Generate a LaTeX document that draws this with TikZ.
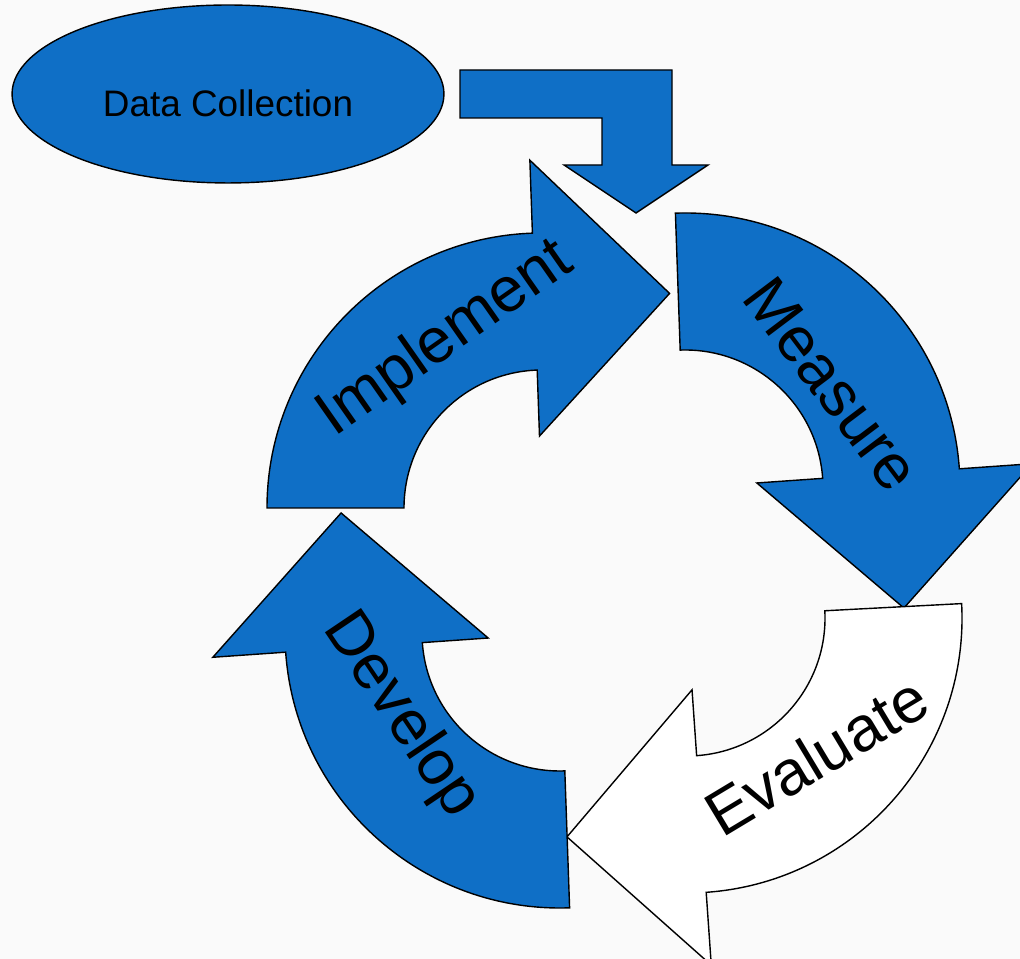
\documentclass[tikz,border=0pt]{standalone}
\usepackage{fontspec}
\setmainfont{Liberation Sans}
\usetikzlibrary{positioning, shapes.geometric}
\definecolor{myblue}{HTML}{0F6FC6}
\colorlet{mypaper}{black!2}
\tikzset{ % shape and text styles
  my shape/.style={draw=black,line width=0.8pt,line join=miter},
  big text/.style={font=\fontsize{36}{42}\selectfont,anchor=base,inner sep=0},
  data node/.style={my shape,ellipse,fill=myblue,inner sep=0,
    minimum width=8.64cm,minimum height=3.56cm,
    font=\fontsize{21}{25}\selectfont,text height=0.9cm,text depth=0pt}
}

\begin{document}
\begin{tikzpicture}[x=0.02cm,y=0.02cm]
\useasboundingbox (0,0) rectangle (1020,959);
\clip (0,0) rectangle (1020,959);
\fill[mypaper] (0,0) rectangle (1020,959);

\node[data node] (data) at (228,865) {Data Collection};

% bent arrow into the cycle
\draw[my shape,fill=myblue] (460,889) -- (672,889) -- (672,794) -- (708,794)
  -- (636,746) -- (564,794) -- (602,794) -- (602,841) -- (460,841) -- cycle;

% centres of the curved arrows
\coordinate (c1) at (542,451);
\coordinate (c2) at (685,471);
\coordinate (c3) at (687,341);
\coordinate (c4) at (560,326);

% curved arrows
\foreach\ctr/\sa/\ea/\col in {c1/180/92/myblue,c2/92/4/myblue,c3/3/-86/white,c4/272/184/myblue}
  \draw[my shape,fill=\col,shift={(\ctr)}]
    (\sa:275) arc[start angle=\sa,end angle=\ea,radius=275]
    -- (\ea:348) -- ([shift={(\ea-90:135)}]\ea:210) -- (\ea:72) -- (\ea:138)
    arc[start angle=\ea,end angle=\sa,radius=138] -- cycle;

% labels
\node[big text,rotate=35]  (impl) at (455,606) {Implement};
\node[big text,rotate=-53] (meas) at (815,562) {Measure};
\node[big text,rotate=31]  (eval) at (828,184) {Evaluate};
\node[big text,rotate=-56] (devl) at (387,234) {Develop};
\end{tikzpicture}
\end{document}
